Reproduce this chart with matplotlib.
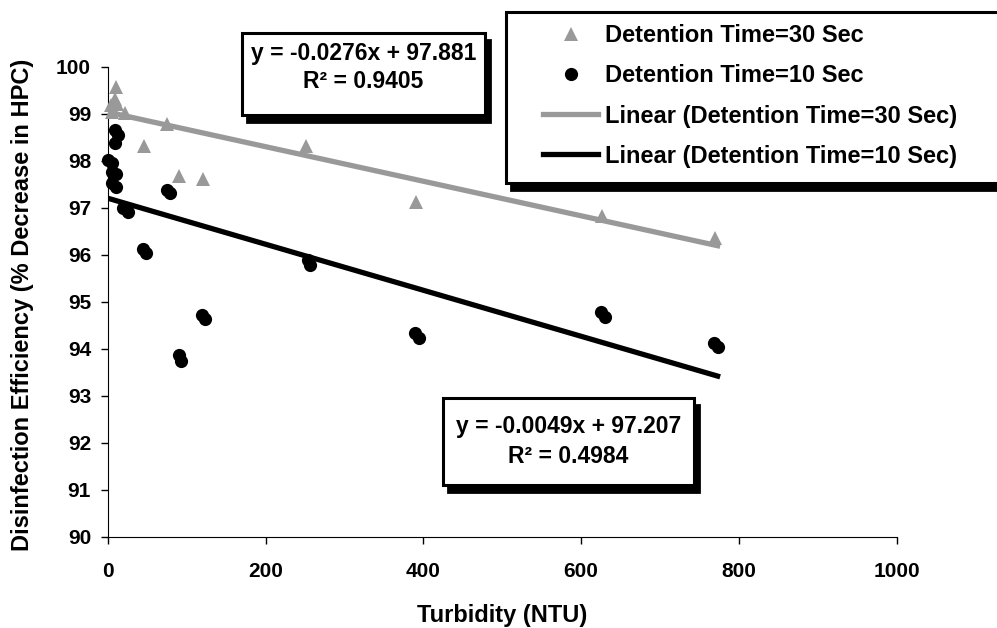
import numpy as np
import matplotlib
matplotlib.use("Agg")
import matplotlib.pyplot as plt
from matplotlib.patches import Rectangle

plt.rcParams['font.family'] = ['Liberation Sans', 'DejaVu Sans']
plt.rcParams['font.weight'] = 'bold'

# Detention time = 30 s (grey triangles)
turb_30 = [11, 9, 4, 12, 6, 22, 75, 46, 90, 121, 251, 391, 626, 770]
eff_30 = [99.58, 99.32, 99.2, 99.22, 99.05, 99.02, 98.79, 98.32, 97.68, 97.62,
          98.32, 97.12, 96.83, 96.36]

# Detention time = 10 s (black circles)
turb_10 = [9, 12.5, 9, 0, 5, 5, 11, 6, 11, 20, 26, 75, 79, 45, 49, 90, 93,
           119, 123, 254, 257, 390, 395, 625, 630, 768, 773]
eff_10 = [98.66, 98.56, 98.39, 98.02, 97.95, 97.77, 97.72, 97.52, 97.45,
          96.99, 96.91, 97.38, 97.31, 96.12, 96.04, 93.86, 93.75, 94.72,
          94.63, 95.89, 95.78, 94.33, 94.22, 94.78, 94.68, 94.13, 94.04]

# linear trendlines as drawn (slope, intercept)
trend_30 = (-0.00368, 99.04)
trend_10 = (-0.0049, 97.207)

series_labels = ['Detention Time=30 Sec', 'Detention Time=10 Sec',
                 'Linear (Detention Time=30 Sec)', 'Linear (Detention Time=10 Sec)']
eq_30 = ['y = -0.0276x + 97.881', 'R\u00b2 = 0.9405']
eq_10 = ['y = -0.0049x + 97.207', 'R\u00b2 = 0.4984']

GREY = '#999999'
W, H = 997, 628

fig = plt.figure(figsize=(W / 100, H / 100), dpi=100)
ax = fig.add_axes([107.7 / W, 1 - 536.7 / H, 789 / W, 469.7 / H])


def box(x0, y0, x1, y1, dx=5, dy=7):
    # shadowed frame in pixel coords (y from top)
    sh = Rectangle((x0 + dx, y0 + dy), x1 - x0, y1 - y0, facecolor='black',
                   edgecolor='black', lw=2, transform=None)
    fr = Rectangle((x0, y0), x1 - x0, y1 - y0, facecolor='white',
                   edgecolor='black', lw=2.2, transform=None)
    for p in (sh, fr):
        p.set_xy((p.get_x(), H - p.get_y() - p.get_height()))
        fig.patches.append(p)


pts30, = ax.plot(turb_30, eff_30, '^', color=GREY, ms=10, mew=0, zorder=3,
                 clip_on=False)
pts10, = ax.plot(turb_10, eff_10, 'o', color='black', ms=9.5, mew=0, zorder=3,
                 clip_on=False)

xs = np.array([0, max(turb_10)])
ln30, = ax.plot(xs, trend_30[0] * xs + trend_30[1], color=GREY, lw=3.8, zorder=4)
ln10, = ax.plot(xs, trend_10[0] * xs + trend_10[1], color='black', lw=3.8, zorder=4)

ax.set_xlim(0, 1000)
ax.set_ylim(90, 100)
ax.set_xticks(range(0, 1001, 200))
ax.set_yticks(range(90, 101))
ax.spines['top'].set_visible(False)
ax.spines['right'].set_visible(False)
ax.tick_params(axis='both', direction='out', length=5, width=1, labelsize=15)
ax.tick_params(axis='x', pad=13)
ax.tick_params(axis='y', pad=7)

ax.set_xlabel('Turbidity (NTU)', fontsize=17, fontweight='bold')
ax.xaxis.set_label_coords(0.5, -0.143)
ax.set_ylabel('Disinfection Efficiency (% Decrease in HPC)', fontsize=17,
              fontweight='bold')
ax.yaxis.set_label_coords(-0.094, 0.493)

# legend frame and entries
box(506, 12, 1020, 183)
fig.legend([pts30, pts10, ln30, ln10], series_labels, loc='upper left',
           bbox_to_anchor=(543 / W, 1 - 24.5 / H), frameon=False,
           handlelength=2.33, handletextpad=0.3, labelspacing=0.72,
           borderpad=0, borderaxespad=0, prop={'weight': 'bold', 'size': 17})

# equation boxes
box(242, 33, 485, 115)
fig.text(363.5 / W, 1 - 53.3 / H, eq_30[0], ha='center', va='center', fontsize=16.5)
fig.text(363.5 / W, 1 - 81.7 / H, eq_30[1], ha='center', va='center', fontsize=16.5)

box(443, 398, 694, 485)
fig.text(568.5 / W, 1 - 426.7 / H, eq_10[0], ha='center', va='center', fontsize=16.5)
fig.text(568.5 / W, 1 - 456.7 / H, eq_10[1], ha='center', va='center', fontsize=16.5)

fig.savefig('out.png', dpi=100)
